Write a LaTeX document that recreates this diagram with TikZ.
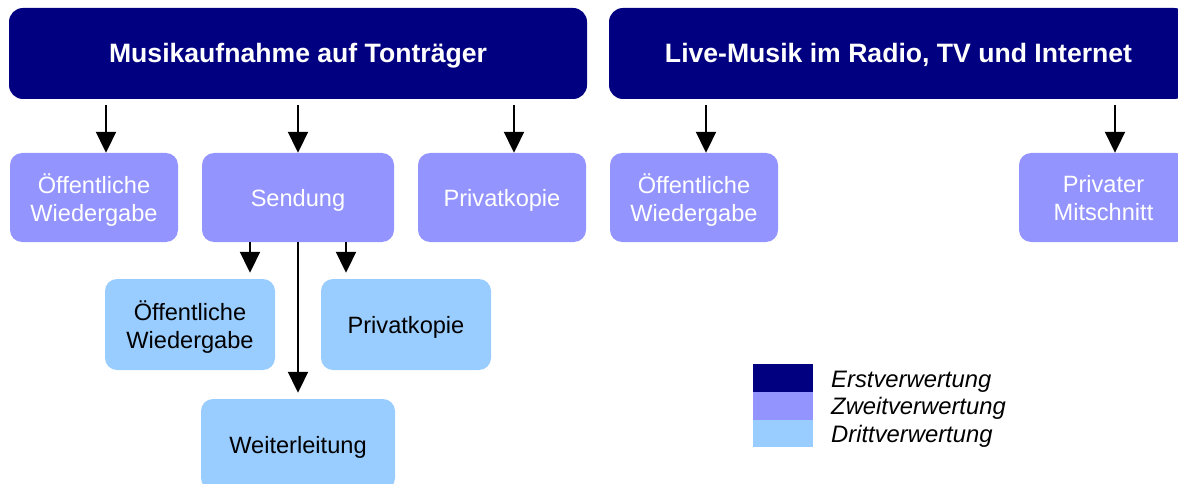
\documentclass[tikz,border=0pt]{standalone}
\usepackage{fontspec}
\setmainfont{Liberation Sans}
\usetikzlibrary{arrows.meta}
\definecolor{erst}{RGB}{0,0,128}
\definecolor{zweit}{RGB}{148,148,255}
\definecolor{dritt}{RGB}{153,204,255}
\tikzset{
  bodyfont/.style={font=\fontsize{23.6}{28}\selectfont},
  topbox/.style={fill=erst, text=white, rounded corners=14pt, inner sep=0pt, align=center,
    minimum height=91pt, text depth=1pt, font=\bfseries\fontsize{26.6}{30}\selectfont},
  zbox/.style={fill=zweit, text=white, rounded corners=12pt, inner sep=0pt, align=center,
    minimum height=89pt, text depth=-2pt, bodyfont},
  dbox/.style={fill=dritt, text=black, rounded corners=12pt, inner sep=0pt, align=center,
    minimum height=91pt, text depth=-2pt, bodyfont},
  arr/.style={draw=black, line width=2pt, -{Triangle[width=20pt,length=21pt]}},
  legsq/.style={inner sep=0pt, minimum width=60pt, minimum height=27.7pt},
  legtxt/.style={anchor=base west, inner sep=0pt, font=\itshape\fontsize{23.8}{28}\selectfont}
}
\begin{document}
\begin{tikzpicture}[x=1pt,y=-1pt]
\useasboundingbox (0,0) rectangle (1178,484);
\clip (0,0) rectangle (1178,484);
% top boxes
\node[topbox, minimum width=578pt] (top1) at (298,53.5) {Musikaufnahme auf Tonträger};
\node[topbox, minimum width=579pt] (top2) at (898.5,53.5) {Live-Musik im Radio, TV und Internet};
% second row
\node[zbox, minimum width=168pt] (oeff1) at (94,197.5) {Öffentliche\\Wiedergabe};
\node[zbox, minimum width=192pt] (send) at (298,197.5) {Sendung};
\node[zbox, minimum width=168pt] (priv1) at (502,197.5) {Privatkopie};
\node[zbox, minimum width=168pt] (oeff2) at (694,197.5) {Öffentliche\\Wiedergabe};
\node[zbox, minimum width=169pt] (privm) at (1103.5,197.5) {Privater\\Mitschnitt};
% third row
\node[dbox, minimum width=170pt] (oeff3) at (190,324.5) {Öffentliche\\Wiedergabe};
\node[dbox, minimum width=170pt] (priv3) at (406,324.5) {Privatkopie};
\node[dbox, minimum width=194pt] (weiter) at (298,444.5) {Weiterleitung};
% arrow columns
\coordinate (c1) at (106,0);
\coordinate (c2) at (298,0);
\coordinate (c3) at (514,0);
\coordinate (c4) at (706,0);
\coordinate (c5) at (1115,0);
\coordinate (s1) at (250,0);
\coordinate (s2) at (298,0);
\coordinate (s3) at (346,0);
% arrows from top boxes
\draw[arr] ([yshift=-6pt]c1 |- top1.south) -- (c1 |- oeff1.north);
\draw[arr] ([yshift=-6pt]c2 |- top1.south) -- (c2 |- send.north);
\draw[arr] ([yshift=-6pt]c3 |- top1.south) -- (c3 |- priv1.north);
\draw[arr] ([yshift=-6pt]c4 |- top2.south) -- (c4 |- oeff2.north);
\draw[arr] ([yshift=-6pt]c5 |- top2.south) -- (c5 |- privm.north);
% arrows from Sendung
\draw[arr, shorten >=6pt] (s1 |- send.south) -- (s1 |- oeff3.north);
\draw[arr, shorten >=6pt] (s3 |- send.south) -- (s3 |- priv3.north);
\draw[arr, shorten >=6pt] (s2 |- send.south) -- (s2 |- weiter.north);
% legend
\node[legsq, fill=erst] (l1) at (783,378) {};
\node[legsq, fill=zweit] (l2) at (783,405.7) {};
\node[legsq, fill=dritt] (l3) at (783,433.4) {};
\node[legtxt] (t1) at (831,387) {Erstverwertung};
\node[legtxt] (t2) at (831,414.5) {Zweitverwertung};
\node[legtxt] (t3) at (831,442) {Drittverwertung};
\end{tikzpicture}
\end{document}
